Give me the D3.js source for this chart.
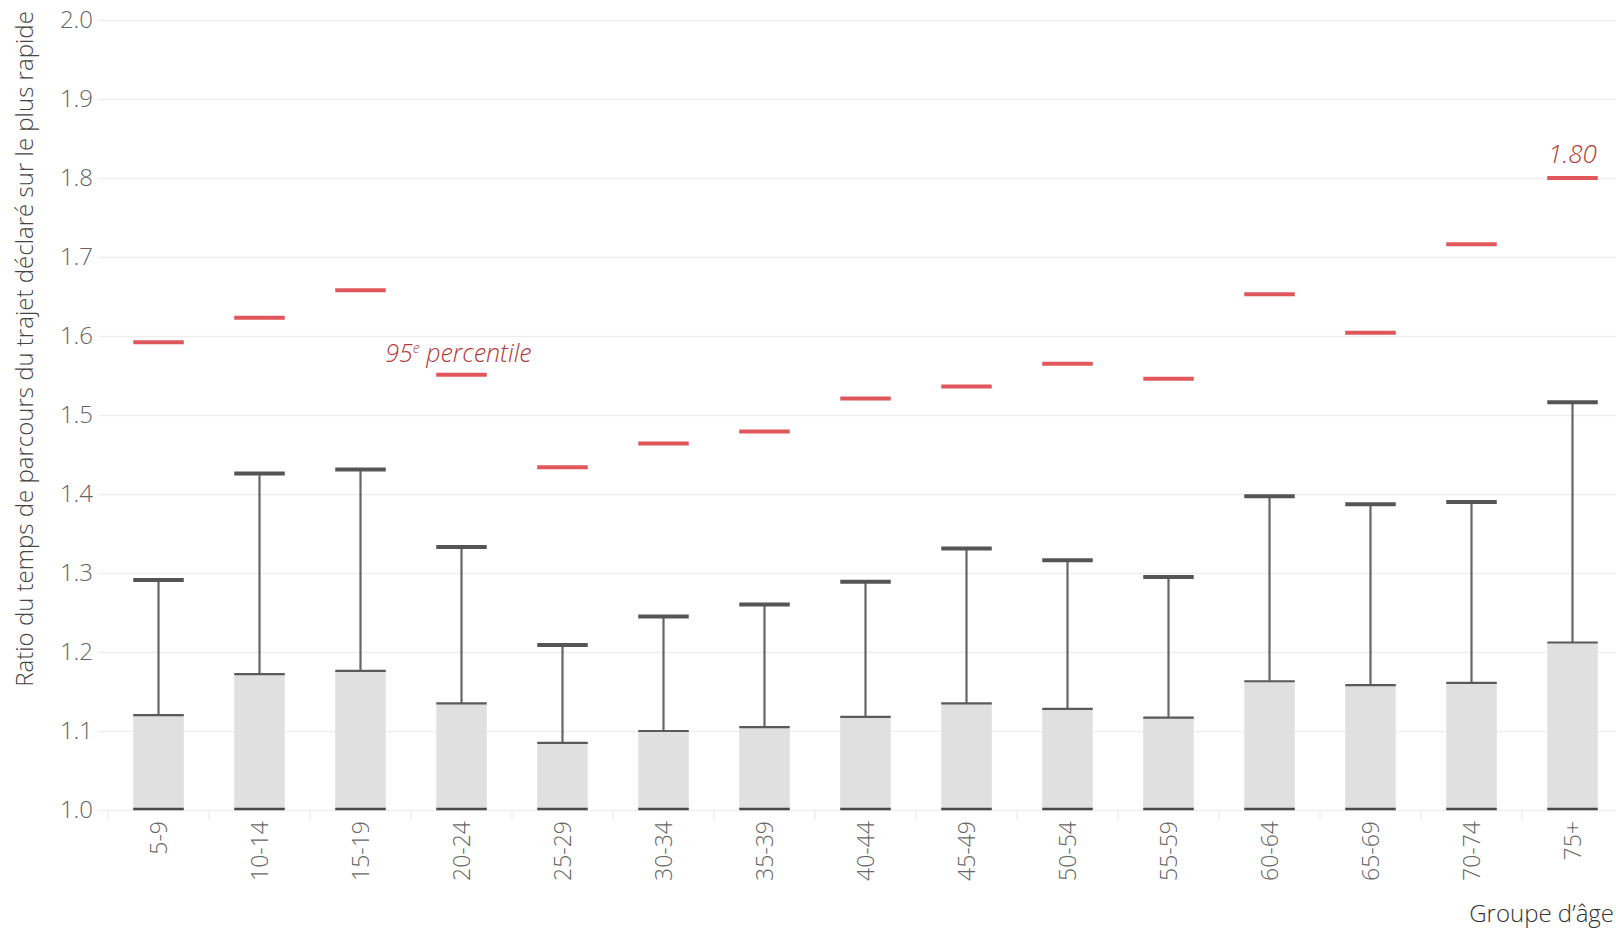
<!DOCTYPE html>
<html lang="fr">
<head>
<meta charset="utf-8">
<script src="https://cdn.jsdelivr.net/npm/d3@7"></script>
<style>
  html, body { margin: 0; padding: 0; background: #fff; }
  svg { display: block; font-family: "Open Sans", "Noto Sans", sans-serif; font-weight: 300; }
</style>
</head>
<body>
<svg id="chart" width="1616" height="930"></svg>
<script>
// Age groups
const categories = ["5-9", "10-14", "15-19", "20-24", "25-29", "30-34", "35-39",
  "40-44", "45-49", "50-54", "55-59", "60-64", "65-69", "70-74", "75+"];

// Median ratio (top of the grey bar)
const medianValues = [1.120, 1.172, 1.176, 1.135, 1.085, 1.100, 1.105,
  1.118, 1.135, 1.128, 1.117, 1.163, 1.158, 1.161, 1.212];

// Upper whisker
const upperValues = [1.291, 1.426, 1.431, 1.333, 1.209, 1.245, 1.260,
  1.289, 1.331, 1.316, 1.295, 1.397, 1.387, 1.390, 1.516];

// 95th percentile (red marks)
const p95Values = [1.592, 1.623, 1.658, 1.551, 1.434, 1.464, 1.479,
  1.521, 1.536, 1.565, 1.546, 1.653, 1.604, 1.716, 1.80];

const yTicks = [1.0, 1.1, 1.2, 1.3, 1.4, 1.5, 1.6, 1.7, 1.8, 1.9, 2.0];

const baseValue = 1.0;
const labelledCategory = "75+";
const percentileLabelCategory = "20-24";

const W = 1616, H = 930;
const plotLeft = 98, plotRight = W;

const svg = d3.select("#chart");

const y = d3.scaleLinear().domain([1, 2]).range([810, 20]);
const x = d3.scaleBand()
  .domain(categories)
  .range([108, 1623])
  .paddingInner(0.5)
  .paddingOuter(0.25);

const rows = categories.map((c, i) => ({
  cat: c, median: medianValues[i], upper: upperValues[i], p95: p95Values[i]
}));

// Horizontal gridlines
const grid = svg.append("g")
  .attr("transform", `translate(${plotLeft},0)`)
  .call(d3.axisRight(y).tickValues(yTicks).tickSize(plotRight - plotLeft).tickFormat(""));
grid.select(".domain").remove();
grid.selectAll("line").attr("stroke", "#eeeeee").attr("stroke-width", 1.5);

// Y tick labels
const yAxis = svg.append("g")
  .attr("transform", `translate(${plotLeft},0)`)
  .call(d3.axisLeft(y).tickValues(yTicks).tickSize(0).tickPadding(5).tickFormat(d3.format(".1f")));
yAxis.select(".domain").remove();
yAxis.selectAll("text")
  .attr("fill", "#666")
  .style("font-size", "24px")
  .style("font-weight", 300)
  .style("font-family", "'Open Sans', sans-serif");

// Category boundary ticks under the baseline
const half = x.step() / 2;
svg.append("g").selectAll("line")
  .data(categories)
  .join("line")
  .attr("x1", d => x(d) + x.bandwidth() / 2 - half)
  .attr("x2", d => x(d) + x.bandwidth() / 2 - half)
  .attr("y1", y(baseValue))
  .attr("y2", y(baseValue) + 10)
  .attr("stroke", "#eeeeee")
  .attr("stroke-width", 1.5);

// X tick labels (rotated)
const xAxis = svg.append("g")
  .attr("transform", `translate(0,${y(baseValue)})`)
  .call(d3.axisBottom(x).tickSize(0).tickPadding(0));
xAxis.select(".domain").remove();
xAxis.selectAll("text")
  .attr("transform", "rotate(-90)")
  .attr("x", -11)
  .attr("y", 0)
  .attr("dy", "0.35em")
  .attr("text-anchor", "end")
  .attr("fill", "#666")
  .style("font-size", "23px")
  .style("font-weight", 300)
  .style("font-family", "'Open Sans', sans-serif");

// Grey median bars
svg.append("g").selectAll("rect")
  .data(rows)
  .join("rect")
  .attr("x", d => x(d.cat))
  .attr("width", x.bandwidth())
  .attr("y", d => y(d.median))
  .attr("height", d => y(baseValue) - y(d.median))
  .attr("fill", "#e0e0e0");

// Bar bottom edge
svg.append("g").selectAll("line")
  .data(rows)
  .join("line")
  .attr("x1", d => x(d.cat))
  .attr("x2", d => x(d.cat) + x.bandwidth())
  .attr("y1", y(baseValue) - 1)
  .attr("y2", y(baseValue) - 1)
  .attr("stroke", "#4a4a4a")
  .attr("stroke-width", 2.5);

// Whisker stems
svg.append("g").selectAll("line")
  .data(rows)
  .join("line")
  .attr("x1", d => x(d.cat) + x.bandwidth() / 2)
  .attr("x2", d => x(d.cat) + x.bandwidth() / 2)
  .attr("y1", d => y(d.median))
  .attr("y2", d => y(d.upper))
  .attr("stroke", "#656565")
  .attr("stroke-width", 2.2);

// Bar top edge (median)
svg.append("g").selectAll("line")
  .data(rows)
  .join("line")
  .attr("x1", d => x(d.cat))
  .attr("x2", d => x(d.cat) + x.bandwidth())
  .attr("y1", d => y(d.median))
  .attr("y2", d => y(d.median))
  .attr("stroke", "#5a5a5a")
  .attr("stroke-width", 2.2);

// Whisker caps
svg.append("g").selectAll("line")
  .data(rows)
  .join("line")
  .attr("x1", d => x(d.cat))
  .attr("x2", d => x(d.cat) + x.bandwidth())
  .attr("y1", d => y(d.upper))
  .attr("y2", d => y(d.upper))
  .attr("stroke", "#555555")
  .attr("stroke-width", 4);

// 95th percentile marks
svg.append("g").selectAll("line")
  .data(rows)
  .join("line")
  .attr("x1", d => x(d.cat))
  .attr("x2", d => x(d.cat) + x.bandwidth())
  .attr("y1", d => y(d.p95))
  .attr("y2", d => y(d.p95))
  .attr("stroke", "#e0575b")
  .attr("stroke-width", 4);

// Annotations
const annColor = "#b5393b";
const pRow = rows.find(r => r.cat === percentileLabelCategory);
const pLabel = svg.append("text")
  .attr("x", x(pRow.cat) + x.bandwidth() / 2 - 3)
  .attr("y", y(pRow.p95) - 13)
  .attr("text-anchor", "middle")
  .attr("fill", annColor)
  .style("font-size", "25px")
  .style("font-weight", 300)
  .style("font-style", "italic");
pLabel.append("tspan").text("95");
pLabel.append("tspan").text("e").attr("baseline-shift", "super").style("font-size", "14px");
pLabel.append("tspan").text(" percentile");

const lRow = rows.find(r => r.cat === labelledCategory);
svg.append("text")
  .attr("x", x(lRow.cat) + x.bandwidth() / 2)
  .attr("y", y(lRow.p95) - 15)
  .attr("text-anchor", "middle")
  .attr("fill", annColor)
  .style("font-size", "26px")
  .style("font-weight", 300)
  .style("font-style", "italic")
  .text(d3.format(".2f")(lRow.p95));

// Axis titles
svg.append("text")
  .attr("transform", "translate(33,349) rotate(-90)")
  .attr("text-anchor", "middle")
  .attr("fill", "#444")
  .style("font-size", "24px")
  .style("font-weight", 300)
  .text("Ratio du temps de parcours du trajet déclaré sur le plus rapide");

svg.append("text")
  .attr("x", 1614)
  .attr("y", 922)
  .attr("text-anchor", "end")
  .attr("fill", "#333")
  .style("font-size", "24px")
  .style("font-weight", 300)
  .text("Groupe d’âge");
</script>
</body>
</html>
